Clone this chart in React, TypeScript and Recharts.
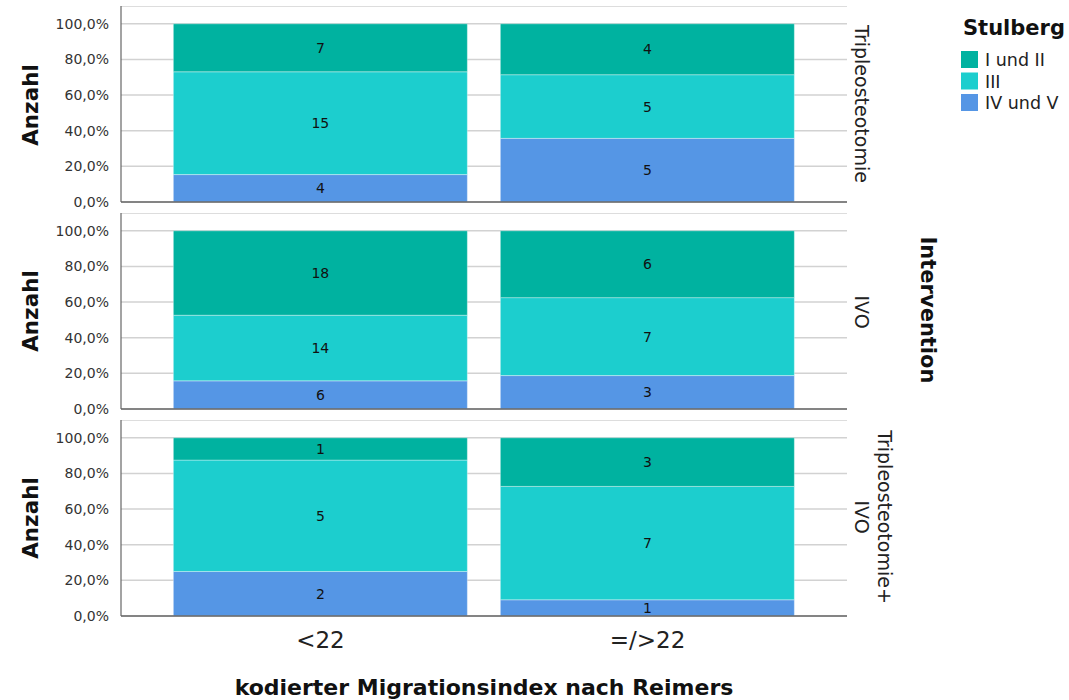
import { BarChart, Bar, XAxis, YAxis, CartesianGrid, LabelList } from "recharts";

const categories = ["<22", "=/>22"];
const stulbergLabels = ["I und II", "III", "IV und V"];
const colors = ["#00b2a0", "#1ccece", "#5596e5"];

// Anzahl je Intervention, Reihenfolge wie categories
const tripleIundII = [7, 4];
const tripleIII = [15, 5];
const tripleIVundV = [4, 5];

const ivoIundII = [18, 6];
const ivoIII = [14, 7];
const ivoIVundV = [6, 3];

const comboIundII = [1, 3];
const comboIII = [5, 7];
const comboIVundV = [2, 1];

const yTicks = [0, 0.2, 0.4, 0.6, 0.8, 1];

const font = "'DejaVu Sans', Verdana, sans-serif";

// Anteile je Balken (Spaltenprozent), Anzahl bleibt fuer die Beschriftung
function rows(i12: number[], i3: number[], i45: number[]) {
  return categories.map((c, i) => {
    const n = i12[i] + i3[i] + i45[i];
    return {
      cat: c,
      i12: i12[i], i3: i3[i], i45: i45[i],
      p12: i12[i] / n, p3: i3[i] / n, p45: i45[i] / n,
    };
  });
}

const panels = [
  { top: 6, data: rows(tripleIundII, tripleIII, tripleIVundV), last: false },
  { top: 213, data: rows(ivoIundII, ivoIII, ivoIVundV), last: false },
  { top: 420, data: rows(comboIundII, comboIII, comboIVundV), last: true },
];

const pct = (v: number) => (v * 100).toFixed(1).replace(".", ",") + "%";

const series = [
  { key: "p45", count: "i45", color: colors[2] },
  { key: "p3", count: "i3", color: colors[1] },
  { key: "p12", count: "i12", color: colors[0] },
];

function Panel({ data, last }: { data: any[]; last: boolean }) {
  const xh = last ? 44 : 10;
  return (
    <BarChart
      width={1069}
      height={196 + xh}
      data={data}
      barCategoryGap="5%"
      margin={{ top: 0, right: 222, bottom: 0, left: 0 }}
    >
      <CartesianGrid vertical={false} stroke="#d2d2d2" strokeWidth={1.5} />
      <XAxis
        dataKey="cat"
        height={xh}
        padding={{ left: 36, right: 36 }}
        axisLine={{ stroke: "#666", strokeWidth: 1.5 }}
        tickLine={false}
        tick={last ? { fontSize: 23, fill: "#222", fontFamily: font } : false}
        tickMargin={10}
      />
      <YAxis
        width={121}
        domain={[0, 1.1]}
        ticks={yTicks}
        interval={0}
        tickFormatter={pct}
        axisLine={{ stroke: "#666", strokeWidth: 1.2 }}
        tickLine={false}
        tickMargin={6}
        tick={{ fontSize: 14, fill: "#333", fontFamily: font }}
      />
      {series.map((s) => (
        <Bar
          key={s.key}
          dataKey={s.key}
          stackId="a"
          fill={s.color}
          stroke="rgba(255,255,255,0.35)"
          strokeWidth={1}
          isAnimationActive={false}
        >
          <LabelList dataKey={s.count} position="center" fill="#111" fontSize={14} fontFamily={font} />
        </Bar>
      ))}
    </BarChart>
  );
}

export default function App() {
  return (
    <div style={{ position: "absolute", left: 0, top: 0, width: 1069, height: 700, background: "#fff" }}>
      {panels.map((p, i) => (
        <div key={i} style={{ position: "absolute", left: 0, top: p.top }}>
          <Panel data={p.data} last={p.last} />
        </div>
      ))}
      <svg
        width={1069}
        height={700}
        style={{ position: "absolute", left: 0, top: 0, pointerEvents: "none" }}
        fontFamily={font}
      >
        {[105, 311, 518].map((y, i) => (
          <text key={i} x={30} y={y} transform={`rotate(-90 30 ${y})`} textAnchor="middle" dominantBaseline="central" fontSize={21.5} fontWeight="bold" fill="#111">
            Anzahl
          </text>
        ))}
        <text x={862} y={104} transform="rotate(90 862 104)" textAnchor="middle" dominantBaseline="central" fontSize={19} fill="#222">
          Tripleosteotomie
        </text>
        <text x={862} y={312} transform="rotate(90 862 312)" textAnchor="middle" dominantBaseline="central" fontSize={19} fill="#222">
          IVO
        </text>
        <text x={885} y={517} transform="rotate(90 885 517)" textAnchor="middle" dominantBaseline="central" fontSize={19} fill="#222">
          Tripleosteotomie+
        </text>
        <text x={862} y={517} transform="rotate(90 862 517)" textAnchor="middle" dominantBaseline="central" fontSize={19} fill="#222">
          IVO
        </text>
        <text x={928} y={310} transform="rotate(90 928 310)" textAnchor="middle" dominantBaseline="central" fontSize={21} fontWeight="bold" fill="#111">
          Intervention
        </text>
        <text x={484} y={687} textAnchor="middle" dominantBaseline="central" fontSize={22} fontWeight="bold" fill="#111">
          kodierter Migrationsindex nach Reimers
        </text>
        <text x={963} y={28} dominantBaseline="central" fontSize={21} fontWeight="bold" fill="#111">
          Stulberg
        </text>
        {stulbergLabels.map((s, i) => (
          <g key={s}>
            <rect x={961} y={51 + i * 21.5} width={17} height={17} fill={colors[i]} />
            <text x={985} y={60 + i * 21.5} dominantBaseline="central" fontSize={17.5} fill="#222">
              {s}
            </text>
          </g>
        ))}
      </svg>
    </div>
  );
}
